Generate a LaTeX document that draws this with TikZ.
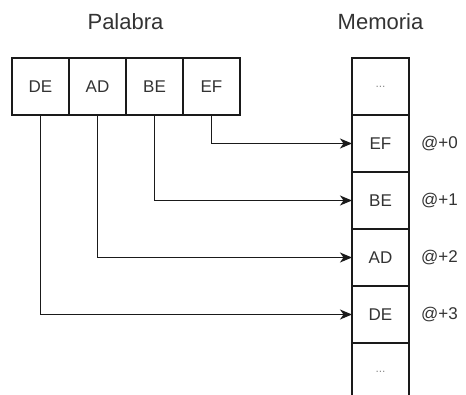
\documentclass[tikz,border=0pt]{standalone}
\usepackage{fontspec}
\setmainfont{Liberation Sans}
\usepackage{xcolor}
\usepackage{tikz}
\usetikzlibrary{arrows.meta,positioning}
\definecolor{textgray}{HTML}{333333}
\definecolor{linegray}{HTML}{1A1A1A}

\begin{document}
\begin{tikzpicture}[
  x=1pt, y=-1pt,
  cell/.style={draw=linegray, line width=1.4pt, minimum width=57pt, minimum height=57pt, inner sep=0pt, outer sep=0pt, align=center, text=textgray, font=\fontsize{17}{20}\selectfont},
  dots/.style={cell, font=\fontsize{12}{14}\selectfont, text=black!45},
  title/.style={text=textgray, font=\fontsize{22}{26}\selectfont},
  addr/.style={inner sep=0pt, text=textgray, font=\fontsize{17}{20}\selectfont},
  link/.style={-{Stealth[length=12pt, width=10pt, inset=3.5pt]}, line width=1.4pt, linegray}
]
  \path[use as bounding box, clip] (0,0) rectangle (466,394);

  % the word, byte by byte
  \node[cell] (wde) at (40.5,86.5) {DE};
  \node[cell, right=0pt of wde] (wad) {AD};
  \node[cell, right=0pt of wad] (wbe) {BE};
  \node[cell, right=0pt of wbe] (wef) {EF};
  \node[title] (palabra) at (125.5,22) {Palabra};

  % memory column
  \node[dots] (mtop) at (380.5,86.5) {...};
  \node[cell, below=0pt of mtop] (mef) {EF};
  \node[cell, below=0pt of mef] (mbe) {BE};
  \node[cell, below=0pt of mbe] (mad) {AD};
  \node[cell, below=0pt of mad] (mde) {DE};
  \node[dots, below=0pt of mde] (mbot) {...};
  \node[title] (memoria) at (380.5,22) {Memoria};

  % offsets
  \node[addr, right=12pt of mef] (off0) {@+0};
  \node[addr, right=12pt of mbe] (off1) {@+1};
  \node[addr, right=12pt of mad] (off2) {@+2};
  \node[addr, right=12pt of mde] (off3) {@+3};

  \draw[link] (wef.south) |- (mef.west);
  \draw[link] (wbe.south) |- (mbe.west);
  \draw[link] (wad.south) |- (mad.west);
  \draw[link] (wde.south) |- (mde.west);
\end{tikzpicture}
\end{document}
